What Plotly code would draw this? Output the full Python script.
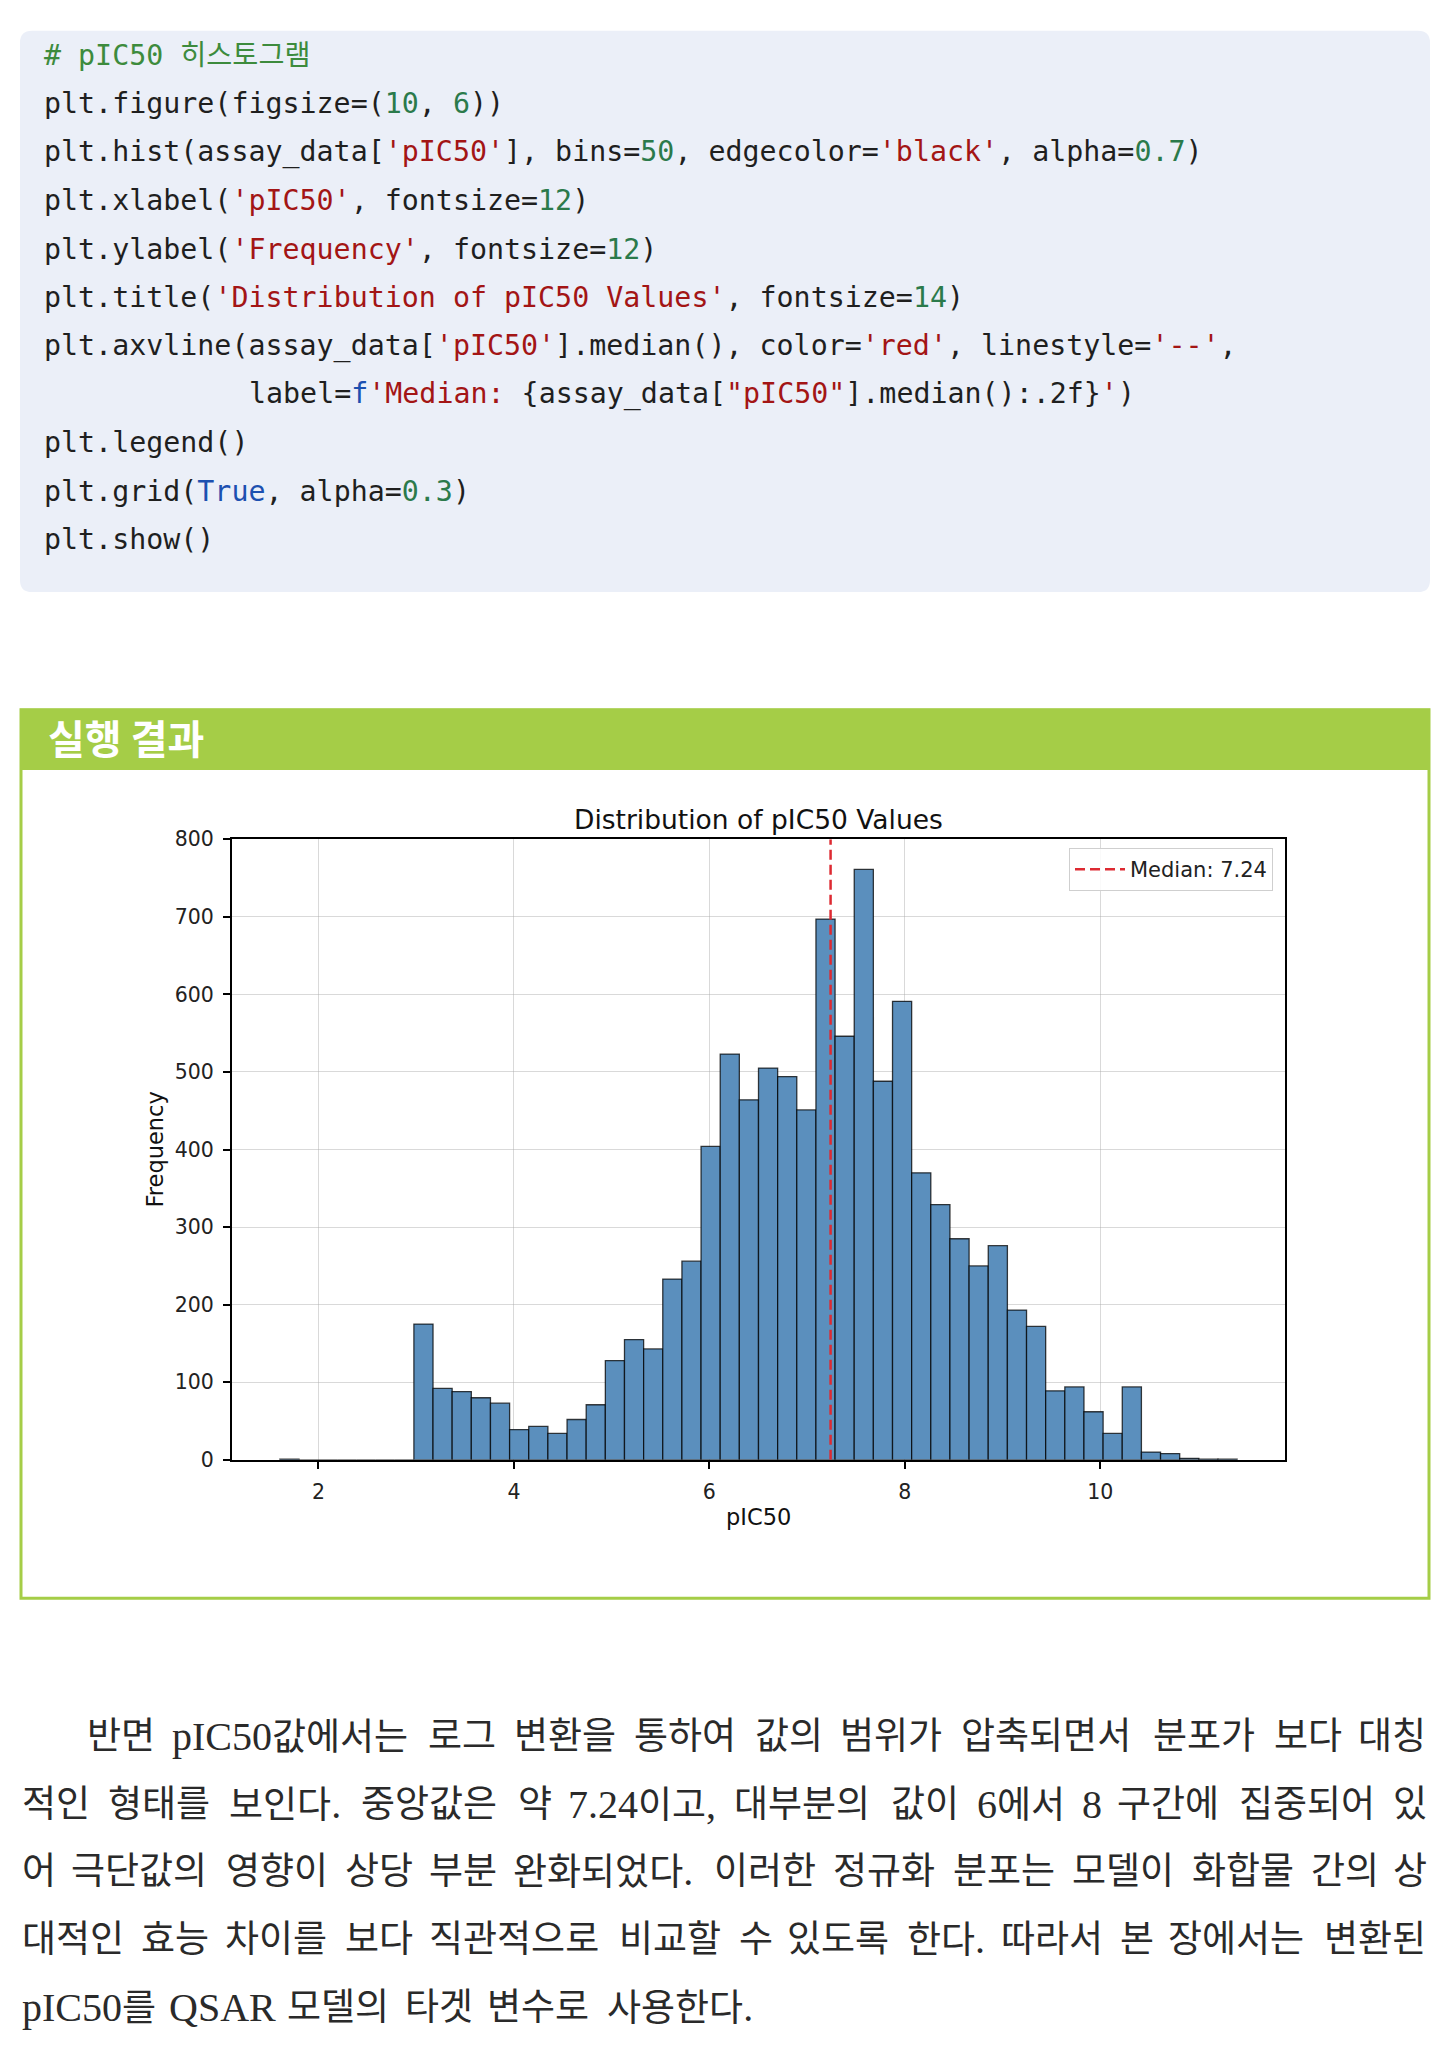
import plotly.graph_objects as go

# ---------------- data ----------------
bin_counts = [1, 0, 0, 0, 0, 0, 0,
              175, 92, 88, 80, 73, 39, 43, 34, 52, 71,
              128, 155, 143, 233, 256, 404, 523, 464, 505, 494,
              451, 697, 546, 761, 488, 591, 370, 329, 285, 250,
              276, 193, 172, 89, 94, 62, 34, 94, 10, 8,
              2, 1, 1]
data_min = 1.605
data_max = 11.40
n_bins = 50
median_value = 7.24
x_ticks = [2, 4, 6, 8, 10]
y_ticks = [0, 100, 200, 300, 400, 500, 600, 700, 800]
y_max = 800

chart_title = "Distribution of pIC50 Values"
x_label = "pIC50"
y_label = "Frequency"
header_text = "실행 결과"

D, S, N, C, B = "#1f1f1f", "#a31515", "#2b7a4b", "#3d8b3d", "#1c50b0"
code_lines = [
    [("# pIC50 히스토그램", C)],
    [("plt.figure(figsize=(", D), ("10", N), (", ", D), ("6", N), ("))", D)],
    [("plt.hist(assay_data[", D), ("'pIC50'", S), ("], bins=", D), ("50", N),
     (", edgecolor=", D), ("'black'", S), (", alpha=", D), ("0.7", N), (")", D)],
    [("plt.xlabel(", D), ("'pIC50'", S), (", fontsize=", D), ("12", N), (")", D)],
    [("plt.ylabel(", D), ("'Frequency'", S), (", fontsize=", D), ("12", N), (")", D)],
    [("plt.title(", D), ("'Distribution of pIC50 Values'", S), (", fontsize=", D), ("14", N), (")", D)],
    [("plt.axvline(assay_data[", D), ("'pIC50'", S), ("].median(), color=", D), ("'red'", S),
     (", linestyle=", D), ("'--'", S), (",", D)],
    [("label=", D), ("f", B), ("'Median: ", S), ("{assay_data[", D), ('"pIC50"', S),
     ("].median():.2f}", D), ("'", S), (")", D)],
    [("plt.legend()", D)],
    [("plt.grid(", D), ("True", B), (", alpha=", D), ("0.3", N), (")", D)],
    [("plt.show()", D)],
]
code_indent = [0, 0, 0, 0, 0, 0, 0, 12, 0, 0, 0]

para_lines = [
    "반면 pIC50값에서는 로그 변환을 통하여 값의 범위가 압축되면서 분포가 보다 대칭",
    "적인 형태를 보인다. 중앙값은 약 7.24이고, 대부분의 값이 6에서 8 구간에 집중되어 있",
    "어 극단값의 영향이 상당 부분 완화되었다. 이러한 정규화 분포는 모델이 화합물 간의 상",
    "대적인 효능 차이를 보다 직관적으로 비교할 수 있도록 한다. 따라서 본 장에서는 변환된",
    "pIC50를 QSAR 모델의 타겟 변수로 사용한다.",
]

# ---------------- helpers ----------------
W, H = 1452, 2047


def px(x):
    return x / W


def py(y):
    return 1 - y / H


def rrect(x0, y0, x1, y1, r):
    return (f"M {px(x0 + r)},{py(y0)} L {px(x1 - r)},{py(y0)} "
            f"Q {px(x1)},{py(y0)} {px(x1)},{py(y0 + r)} L {px(x1)},{py(y1 - r)} "
            f"Q {px(x1)},{py(y1)} {px(x1 - r)},{py(y1)} L {px(x0 + r)},{py(y1)} "
            f"Q {px(x0)},{py(y1)} {px(x0)},{py(y1 - r)} L {px(x0)},{py(y0 + r)} "
            f"Q {px(x0)},{py(y0)} {px(x0 + r)},{py(y0)} Z")


LAT = {'p': .5, 'I': .333, 'C': .667, 'Q': .722, 'S': .556, 'A': .722, 'R': .667,
       '.': .25, ',': .25, '0': .5, '1': .5, '2': .5, '3': .5, '4': .5, '5': .5,
       '6': .5, '7': .5, '8': .5, '9': .5}
LAT_SCALE = 1.08


def is_hangul(ch):
    return 0xAC00 <= ord(ch) <= 0xD7A3


def text_w(s, fs):
    w = 0
    for ch in s:
        if is_hangul(ch):
            w += fs * 0.96
        else:
            w += fs * LAT_SCALE * LAT.get(ch, 0.5)
    return w


def word_html(s, fs):
    out, run = "", ""
    for ch in s:
        if is_hangul(ch):
            if run:
                out += f'<span style="font-size:{fs * LAT_SCALE:.1f}px">{run}</span>'
                run = ""
            out += ch
        else:
            run += ch
    if run:
        out += f'<span style="font-size:{fs * LAT_SCALE:.1f}px">{run}</span>'
    return out


bin_w = (data_max - data_min) / n_bins
centers = [data_min + (i + 0.5) * bin_w for i in range(n_bins)]
pad = 0.05 * (data_max - data_min)

fig = go.Figure()
fig.add_trace(go.Bar(
    x=centers, y=bin_counts, width=bin_w,
    marker=dict(color="#5b8fbd", line=dict(color="rgba(0,0,0,0.75)", width=1.3)),
    showlegend=False, hoverinfo="skip"))
fig.add_trace(go.Scatter(
    x=[median_value, median_value], y=[0, y_max], mode="lines",
    line=dict(color="#dd2a32", width=2.5, dash="10px,5px"),
    name=f"Median: {median_value:.2f}", hoverinfo="skip"))

axis_common = dict(
    ticks="outside", ticklen=7, tickwidth=1.5, tickcolor="black",
    showline=True, linecolor="black", linewidth=2.2, mirror=True,
    showgrid=True, gridcolor="rgba(170,170,170,0.45)", gridwidth=1.2,
    zeroline=False, layer="above traces", fixedrange=True,
    tickfont=dict(family="DejaVu Sans", size=20.5, color="#222"),
    ticklabelstandoff=5,
)

fig.update_layout(
    width=W, height=H, autosize=False,
    margin=dict(l=0, r=0, t=0, b=0),
    paper_bgcolor="white", plot_bgcolor="white",
    xaxis=dict(domain=[px(232), px(1285)], range=[data_min - pad, data_max + pad],
               tickvals=x_ticks, **axis_common),
    yaxis=dict(domain=[py(1465), py(837)], range=[0, y_max],
               tickvals=y_ticks, **axis_common),
    showlegend=True,
    legend=dict(x=px(1273), xanchor="right", y=py(846), yanchor="top",
                bordercolor="#cfcfcf", borderwidth=1, bgcolor="rgba(255,255,255,0.85)",
                itemwidth=50,
                font=dict(family="DejaVu Sans", size=21, color="#222")),
)

shapes = [
    dict(type="path", xref="paper", yref="paper", path=rrect(20, 19, 1430, 587, 12),
         fillcolor="#ebeff8", line=dict(width=0), layer="below"),
    dict(type="rect", xref="paper", yref="paper", x0=px(21), x1=px(1429), y0=py(1605), y1=py(706),
         line=dict(color="#a5cd47", width=3), fillcolor="rgba(0,0,0,0)", layer="below"),
    dict(type="rect", xref="paper", yref="paper", x0=px(20), x1=px(1430), y0=py(767), y1=py(705),
         line=dict(width=0), fillcolor="#a5cd47", layer="below"),
]
fig.update_layout(shapes=shapes)

ann = []
# code block
char_w = 17.07
for i, (segs, ind) in enumerate(zip(code_lines, code_indent)):
    html = "".join(f'<span style="color:{c}">{t}</span>' for t, c in segs)
    ann.append(dict(x=px(42 + ind * char_w), y=py(44 + 49 * i), xref="paper", yref="paper",
                    xanchor="left", yanchor="middle", showarrow=False, text=html,
                    font=dict(family="DejaVu Sans Mono, Noto Sans CJK KR", size=28.3, color=D)))
# header
ann.append(dict(x=px(46), y=py(734), xref="paper", yref="paper", xanchor="left", yanchor="middle",
                showarrow=False, text=f"<b>{header_text}</b>",
                font=dict(family="Noto Sans CJK KR", size=40, color="white")))
# chart texts
ann.append(dict(x=px(758.5), y=py(817), xref="paper", yref="paper", xanchor="center", yanchor="middle",
                showarrow=False, text=chart_title,
                font=dict(family="DejaVu Sans", size=26.5, color="#111")))
ann.append(dict(x=px(758.5), y=py(1523), xref="paper", yref="paper", xanchor="center", yanchor="middle",
                showarrow=False, text=x_label,
                font=dict(family="DejaVu Sans", size=22.5, color="#111")))
ann.append(dict(x=px(155), y=py(1151), xref="paper", yref="paper", xanchor="center", yanchor="middle",
                showarrow=False, text=y_label, textangle=-90,
                font=dict(family="DejaVu Sans", size=22.5, color="#111")))

# paragraph (justified)
pfs = 37
pfont = dict(family="Liberation Serif, Noto Sans CJK KR", size=pfs, color="#2a2a2a")
line_specs = [(85, 1428, 1745), (20, 1429, 1813.5), (20, 1429, 1882),
              (20, 1428, 1950.5), (20, 755, 2019)]
for text, (xs, xe, yc) in zip(para_lines, line_specs):
    words = text.split(" ")
    widths = [text_w(w, pfs) for w in words]
    gap = (xe - xs - sum(widths)) / (len(words) - 1)
    cur = xs
    for k, (wd, ww) in enumerate(zip(words, widths)):
        last = k == len(words) - 1
        ann.append(dict(x=px(xe if last else cur), y=py(yc), xref="paper", yref="paper",
                        xanchor="right" if last else "left", yanchor="middle",
                        showarrow=False, text=word_html(wd, pfs), font=pfont))
        cur += ww + gap

fig.update_layout(annotations=ann)
fig.write_html("out.html", config={"displayModeBar": False},
               post_script="document.body.style.margin='0';")
